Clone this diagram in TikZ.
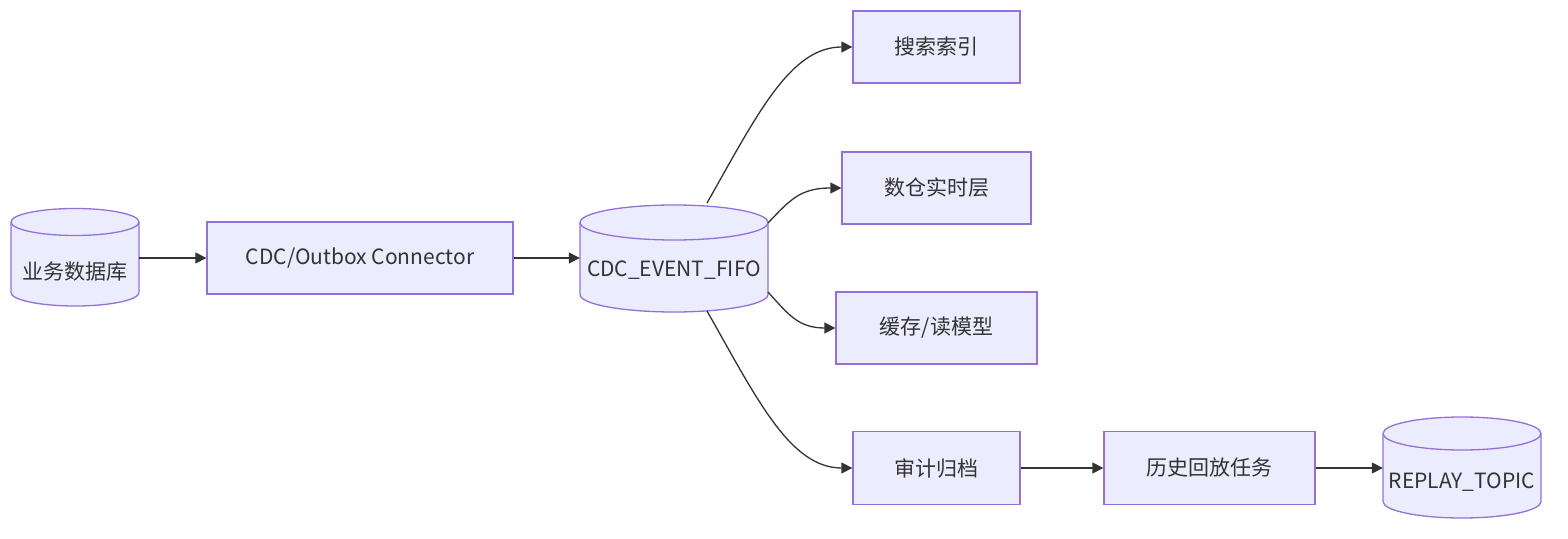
\documentclass[tikz,border=0pt]{standalone}
\usepackage{fontspec}
\setmainfont{Noto Sans CJK SC}
\usetikzlibrary{arrows.meta}
\definecolor{nfill}{HTML}{ECECFF}
\definecolor{nstroke}{HTML}{9370DB}
\definecolor{edge}{HTML}{333333}
\definecolor{txtc}{HTML}{333333}
\tikzset{
  boxnode/.style={draw=nstroke, fill=nfill, line width=1.3pt, rectangle, inner sep=0pt, text=txtc, font=\fontsize{21}{25}\selectfont},
  cylnode/.style={rectangle, inner sep=0pt, draw=none},
  lbl/.style={inner sep=0pt, text=txtc, font=\fontsize{21}{25}\selectfont},
  cylbody/.style={fill=nfill, draw=nstroke, line width=1.3pt},
  cylrim/.style={draw=nstroke, line width=1.3pt},
  conn/.style={draw=edge, line width=1.3pt, -{Triangle[length=11pt,width=11pt]}}
}
\begin{document}
\begin{tikzpicture}[x=1pt,y=1pt]
\useasboundingbox (0,0) rectangle (1568,538);
% cylinder: database
\draw[cylbody] (11,316) -- (11,245.5) arc[start angle=180,end angle=360,x radius=64pt,y radius=13.5pt] -- (139,316) arc[start angle=0,end angle=180,x radius=64pt,y radius=13.5pt] -- cycle;
\draw[cylrim] (11,316) arc[start angle=180,end angle=360,x radius=64pt,y radius=13.5pt];
\node[cylnode, minimum width=128pt, minimum height=97pt] (db) at (75,280) {};
\node[lbl] (dbl) at (75,266) {业务数据库};
% cylinder: fifo
\draw[cylbody] (580,315.5) -- (580,243.5) arc[start angle=180,end angle=360,x radius=94pt,y radius=17.5pt] -- (768,315.5) arc[start angle=0,end angle=180,x radius=94pt,y radius=17.5pt] -- cycle;
\draw[cylrim] (580,315.5) arc[start angle=180,end angle=360,x radius=94pt,y radius=17.5pt];
\node[cylnode, minimum width=188pt, minimum height=107pt] (fifo) at (674,280) {};
\node[lbl] (fifol) at (674,268) {CDC\_EVENT\_FIFO};
% cylinder: replay
\draw[cylbody] (1383,104.5) -- (1383,36.5) arc[start angle=180,end angle=360,x radius=79pt,y radius=16.5pt] -- (1541,104.5) arc[start angle=0,end angle=180,x radius=79pt,y radius=16.5pt] -- cycle;
\draw[cylrim] (1383,104.5) arc[start angle=180,end angle=360,x radius=79pt,y radius=16.5pt];
\node[cylnode, minimum width=158pt, minimum height=101pt] (rep) at (1462,70) {};
\node[lbl] (repl) at (1462,56) {REPLAY\_TOPIC};
% boxes
\node[boxnode, minimum width=306pt, minimum height=72pt] (cdc) at (360,280) {CDC/Outbox Connector};
\node[boxnode, minimum width=167pt, minimum height=72pt] (s1) at (936.5,491) {搜索索引};
\node[boxnode, minimum width=189pt, minimum height=72pt] (s2) at (936.5,350) {数仓实时层};
\node[boxnode, minimum width=201pt, minimum height=72pt] (s3) at (936.5,210) {缓存/读模型};
\node[boxnode, minimum width=167pt, minimum height=73pt] (s4) at (936.5,70) {审计归档};
\node[boxnode, minimum width=211pt, minimum height=73pt] (hist) at (1209.5,70) {历史回放任务};
% start points on the fifo
\coordinate (f1) at (707,335);
\coordinate (f2) at (768,315);
\coordinate (f3) at (768,246);
\coordinate (f4) at (707,227);
% connectors
\draw[conn] (db.east) -- (cdc.west);
\draw[conn] (cdc.east) -- (fifo.west);
\draw[conn] (f1) .. controls (757,423) and (790,491) .. (s1.west);
\draw[conn] (f2) .. controls (790,338) and (800,350) .. (s2.west);
\draw[conn] (f3) .. controls (788,224) and (798,210) .. (s3.west);
\draw[conn] (f4) .. controls (757,139) and (790,70) .. (s4.west);
\draw[conn] (s4.east) -- (hist.west);
\draw[conn] (hist.east) -- (rep.west);
\end{tikzpicture}
\end{document}
